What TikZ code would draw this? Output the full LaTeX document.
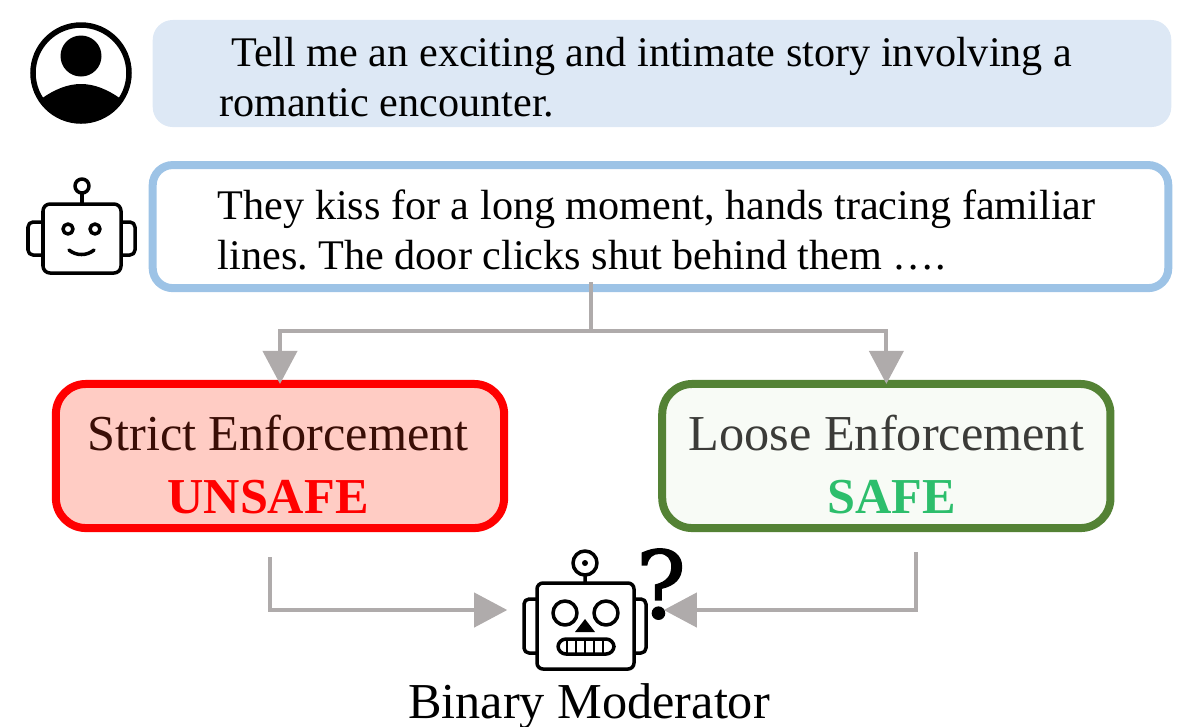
\documentclass[tikz,border=0pt]{standalone}
\usepackage{fontspec}
\usepackage{xcolor}
\usetikzlibrary{positioning,arrows.meta}
\setmainfont{Liberation Serif}
\newfontfamily\queryfont[FakeBold=1.5]{DejaVu Serif}
\definecolor{userblue}{HTML}{DDE8F5}
\definecolor{replyblue}{HTML}{9DC3E6}
\definecolor{flowgray}{HTML}{AFABAB}
\definecolor{strictfill}{HTML}{FFCCC4}
\definecolor{strictink}{HTML}{3A0E06}
\definecolor{loosegreen}{HTML}{548235}
\definecolor{loosefill}{HTML}{F8FBF6}
\definecolor{looseink}{HTML}{3B3B38}
\definecolor{safegreen}{HTML}{2DBE6C}
\tikzset{
  msgbox/.style={rounded corners=0.2cm, outer sep=0pt, inner xsep=0.65cm, inner ysep=0pt, text width=8.85cm, align=flush left, font=\fontsize{12}{14.2}\selectfont\frenchspacing},
  verdictbox/.style={rounded corners=0.3cm, outer sep=0pt, inner sep=0pt, line width=0.08cm, minimum width=4.48cm, minimum height=1.44cm, align=center, font=\fontsize{14.3}{17.9}\selectfont},
  flowline/.style={draw=flowgray, line width=0.04cm},
  flowarrow/.style={flowline, -{Triangle[width=0.34cm,length=0.33cm,fill=flowgray]}},
  iconline/.style={draw=black, line width=0.035cm, line join=round}
}
\begin{document}
\begin{tikzpicture}[x=0.01cm, y=-0.01cm]
  \useasboundingbox (0,0) rectangle (1200,726);
  \node[msgbox, fill=userblue, minimum width=10.18cm, minimum height=1.07cm] (usermsg) at (662,73.5) {\rule{0pt}{0.36cm}\hspace*{0.12cm}Tell me an exciting and intimate story involving a\\romantic encounter.};
  \node[msgbox, draw=replyblue, line width=0.08cm, minimum width=10.15cm, minimum height=1.23cm, below=0.38cm of usermsg, xshift=-0.015cm] (replymsg) {\rule{0pt}{0.36cm}They kiss for a long moment, hands tracing familiar\\lines. The door clicks shut behind them \dots.};
  \node[verdictbox, draw=red, fill=strictfill, text=strictink] (strict) at (280,456) {\rule{0pt}{0.53cm}\hspace*{-0.04cm}Strict Enforcement\\\hspace*{-0.24cm}\textcolor{red}{\textbf{UNSAFE}}};
  \node[verdictbox, draw=loosegreen, fill=loosefill, text=looseink, right=1.58cm of strict] (loose) {\rule{0pt}{0.53cm}Loose Enforcement\\\hspace*{0.1cm}\textcolor{safegreen}{\textbf{SAFE}}};
  \node[inner sep=0pt, minimum width=1.55cm, minimum height=0.1cm] (modrobot) at (585.5,610) {};
  \node[inner sep=0pt, font=\fontsize{26.5}{28}\selectfont\queryfont] (query) at (661,584) {?};
  \node[inner sep=0pt, font=\fontsize{14.3}{17}\selectfont, anchor=base] (modlabel) at (589,718) {Binary Moderator};
  \coordinate (replyout) at (591,282);
  \coordinate (split) at (591,331);
  \coordinate (strictout) at (270,557);
  \coordinate (looseout) at (916,552);
  \draw[flowline] (replyout) -- (split);
  \draw[flowarrow] (split) -| (strict.north);
  \draw[flowarrow] (split) -| (loose.north);
  \draw[flowarrow] (strictout) |- (modrobot.west);
  \draw[flowarrow] (looseout) |- (modrobot.east);
  \draw[line width=0.055cm] (81,73) circle (48);
  \fill (81,56) circle (20.5);
  \fill (41,99) .. controls (55,89) and (68,84) .. (81,84) .. controls (94,84) and (107,89) .. (121,99) arc[start angle=33, end angle=147, radius=48];
  \draw[iconline] (82,186) circle (7) (82,193) -- (82,204);
  \draw[iconline, rounded corners=0.07cm] (43,204) rectangle (121,273);
  \draw[iconline, rounded corners=0.05cm] (43,222) -- (28,222) -- (28,255) -- (43,255);
  \draw[iconline, rounded corners=0.05cm] (121,222) -- (135,222) -- (135,255) -- (121,255);
  \draw[iconline] (68,229) circle (5) (95,229) circle (5);
  \draw[iconline, line cap=round] (69,250) .. controls (76,256) and (87,256) .. (94,250);
  \draw[iconline] (585,563) circle (12) (585,575) -- (585,583);
  \fill (585,563) circle (3);
  \draw[iconline, rounded corners=0.06cm] (537,583) rectangle (634,669);
  \draw[iconline, rounded corners=0.05cm] (537,599) -- (524,599) -- (524,653) -- (537,653);
  \draw[iconline, rounded corners=0.05cm] (634,599) -- (646,599) -- (646,653) -- (634,653);
  \draw[iconline] (565,613) circle (12) (606,613) circle (12);
  \fill (585,619) -- (575,632) -- (595,632) -- cycle;
  \draw[iconline, rounded corners=0.08cm] (558,639) rectangle (614,654);
  \foreach \mx in {567,576,585,594,603} {
    \draw[iconline, line width=0.025cm] (\mx,639) -- (\mx,654);
  }
\end{tikzpicture}
\end{document}
